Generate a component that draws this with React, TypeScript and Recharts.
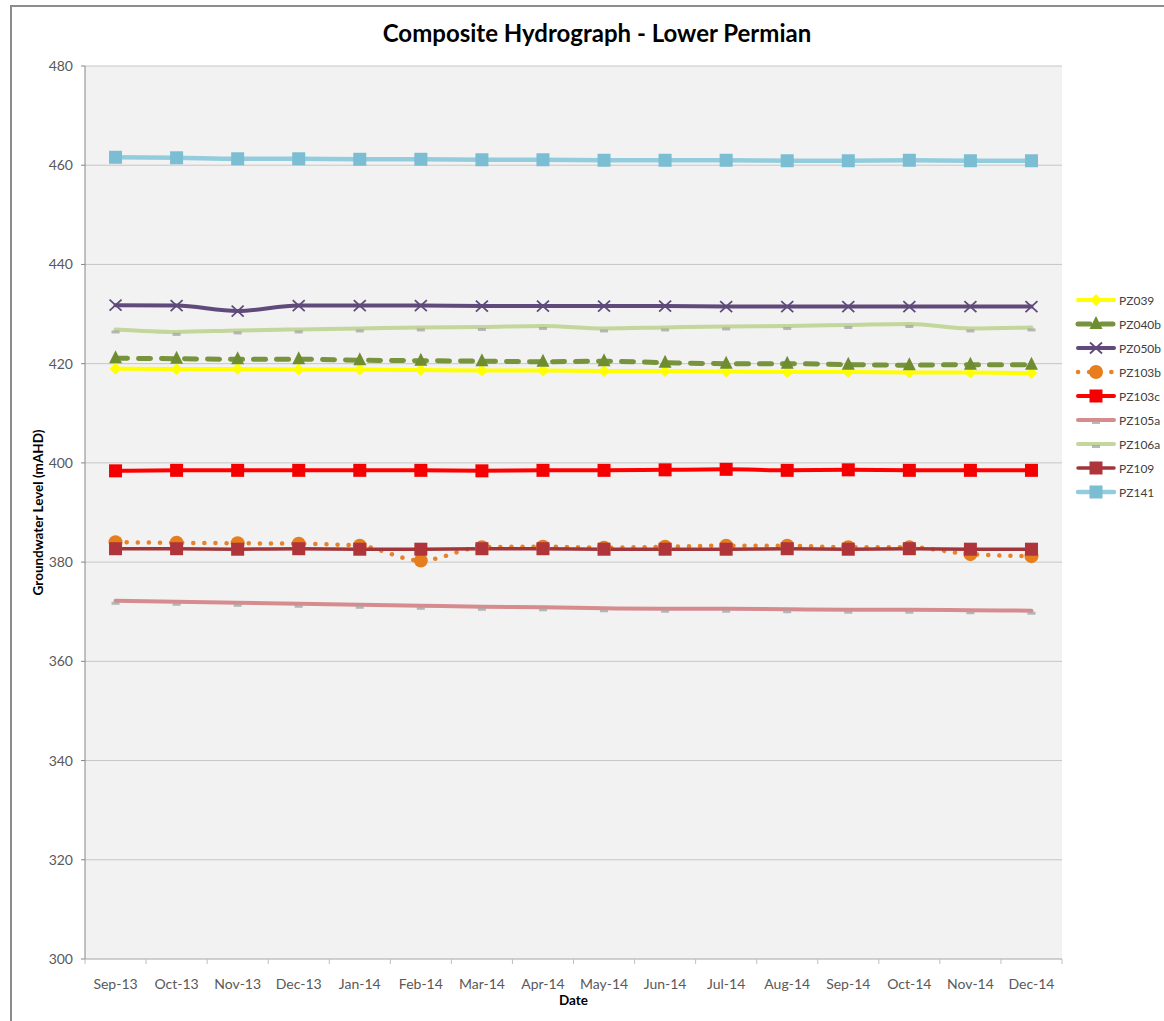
import { LineChart, Line, XAxis, YAxis, CartesianGrid, Legend, Label } from "recharts";

const FONT = "Lato, 'Open Sans', sans-serif";

const months = [
  "Sep-13", "Oct-13", "Nov-13", "Dec-13", "Jan-14", "Feb-14", "Mar-14", "Apr-14",
  "May-14", "Jun-14", "Jul-14", "Aug-14", "Sep-14", "Oct-14", "Nov-14", "Dec-14",
];

const pz039 = [419.0, 418.9, 418.9, 418.8, 418.8, 418.7, 418.6, 418.6, 418.5, 418.5, 418.4, 418.3, 418.3, 418.2, 418.2, 418.1];
const pz040b = [421.1, 421.0, 420.9, 420.9, 420.7, 420.6, 420.5, 420.4, 420.5, 420.2, 420.0, 420.0, 419.8, 419.7, 419.8, 419.8];
const pz050b = [431.8, 431.7, 430.6, 431.7, 431.7, 431.7, 431.6, 431.6, 431.6, 431.6, 431.5, 431.5, 431.5, 431.5, 431.5, 431.5];
const pz103b = [384.0, 383.9, 383.8, 383.7, 383.3, 380.3, 383.0, 383.1, 382.9, 383.1, 383.3, 383.3, 383.0, 383.0, 381.6, 381.2];
const pz103c = [398.4, 398.5, 398.5, 398.5, 398.5, 398.5, 398.4, 398.5, 398.5, 398.6, 398.7, 398.5, 398.6, 398.5, 398.5, 398.5];
const pz105a = [372.2, 372.0, 371.8, 371.6, 371.4, 371.2, 371.0, 370.9, 370.7, 370.6, 370.6, 370.5, 370.4, 370.4, 370.3, 370.2];
const pz106a = [426.9, 426.4, 426.7, 426.9, 427.1, 427.3, 427.4, 427.6, 427.1, 427.3, 427.5, 427.6, 427.8, 428.0, 427.1, 427.3];
const pz109 = [382.7, 382.7, 382.6, 382.7, 382.6, 382.6, 382.7, 382.7, 382.6, 382.6, 382.6, 382.7, 382.6, 382.7, 382.6, 382.6];
const pz141 = [461.6, 461.5, 461.3, 461.3, 461.2, 461.2, 461.1, 461.1, 461.0, 461.0, 461.0, 460.9, 460.9, 461.0, 460.9, 460.9];

const yTicks = [300, 320, 340, 360, 380, 400, 420, 440, 460, 480];

type Marker = "diamond" | "triangle" | "cross" | "circle" | "square" | "dash";

type Series = {
  key: string;
  values: number[];
  color: string;
  width: number;
  marker: Marker;
  markerColor: string;
  dash?: string;
  cap?: "round" | "butt";
};

const series: Series[] = [
  { key: "PZ039", values: pz039, color: "#ffff00", width: 4, marker: "diamond", markerColor: "#ffff00" },
  { key: "PZ040b", values: pz040b, color: "#77933c", width: 5, marker: "triangle", markerColor: "#6e8c30", dash: "12 11", cap: "round" },
  { key: "PZ050b", values: pz050b, color: "#604a7b", width: 4, marker: "cross", markerColor: "#604a7b" },
  { key: "PZ103b", values: pz103b, color: "#e8822a", width: 4.5, marker: "circle", markerColor: "#e67e1e", dash: "0.1 11", cap: "round" },
  { key: "PZ103c", values: pz103c, color: "#ff0000", width: 4, marker: "square", markerColor: "#f50000" },
  { key: "PZ105a", values: pz105a, color: "#d68c8f", width: 4, marker: "dash", markerColor: "#a6a6a6" },
  { key: "PZ106a", values: pz106a, color: "#c3d69b", width: 4, marker: "dash", markerColor: "#a6a6a6" },
  { key: "PZ109", values: pz109, color: "#a0363a", width: 3.5, marker: "square", markerColor: "#b0353a" },
  { key: "PZ141", values: pz141, color: "#93cddd", width: 4.5, marker: "square", markerColor: "#7bbdd3" },
];

const data = months.map((month, i) => {
  const row: Record<string, string | number> = { month };
  series.forEach((s) => {
    row[s.key] = s.values[i];
  });
  return row;
});

const CHART_W = 1152;
const CHART_H = 1014;
const Y_AXIS_W = 73;
const LEGEND_W = 102;
const PLOT_W = CHART_W - Y_AXIS_W - LEGEND_W;
const BAND = PLOT_W / months.length;

function drawMarker(kind: Marker, cx: number, cy: number, color: string, key: string) {
  switch (kind) {
    case "diamond":
      return <path key={key} d={`M${cx},${cy - 6} L${cx + 6},${cy} L${cx},${cy + 6} L${cx - 6},${cy} Z`} fill={color} />;
    case "triangle":
      return <path key={key} d={`M${cx},${cy - 8} L${cx + 6.5},${cy + 5} L${cx - 6.5},${cy + 5} Z`} fill={color} />;
    case "cross":
      return (
        <path
          key={key}
          d={`M${cx - 6},${cy - 5.5} L${cx + 6},${cy + 5.5} M${cx + 6},${cy - 5.5} L${cx - 6},${cy + 5.5}`}
          stroke={color}
          strokeWidth={1.8}
          fill="none"
        />
      );
    case "circle":
      return <circle key={key} cx={cx} cy={cy} r={7} fill={color} />;
    case "square":
      return <rect key={key} x={cx - 6.5} y={cy - 6.5} width={13} height={13} fill={color} />;
    case "dash":
      return <rect key={key} x={cx - 4} y={cy + 1} width={8} height={3} fill={color} opacity={0.8} />;
  }
}

function MonthTick(props: any) {
  const { x, y, payload } = props;
  const last = payload.index === months.length - 1;
  return (
    <g>
      <line x1={x - BAND / 2} x2={x - BAND / 2} y1={y} y2={y + 5} stroke="#bfbfbf" />
      {last && <line x1={x + BAND / 2} x2={x + BAND / 2} y1={y} y2={y + 5} stroke="#bfbfbf" />}
      <text x={x} y={y + 30} textAnchor="middle" fill="#595959" fontSize={14} fontFamily={FONT}>
        {payload.value}
      </text>
    </g>
  );
}

function renderLegend() {
  return (
    <div style={{ width: LEGEND_W, paddingLeft: 14, boxSizing: "border-box" }}>
      {series.map((s) => (
        <div key={s.key} style={{ height: 24, display: "flex", alignItems: "center" }}>
          <svg width={40} height={16} style={{ overflow: "visible", flex: "none" }}>
            <line
              x1={2}
              y1={8}
              x2={38}
              y2={8}
              stroke={s.color}
              strokeWidth={s.width}
              strokeDasharray={s.dash}
              strokeLinecap={s.cap ?? "round"}
            />
            {drawMarker(s.marker, 20, 8, s.markerColor, "m")}
          </svg>
          <span style={{ marginLeft: 3, fontFamily: FONT, fontSize: 12, color: "#404040", whiteSpace: "nowrap" }}>
            {s.key}
          </span>
        </div>
      ))}
    </div>
  );
}

export default function App() {
  return (
    <div
      style={{
        width: 1164,
        height: 1021,
        paddingLeft: 10,
        paddingTop: 5,
        boxSizing: "border-box",
        background: "#fff",
        overflow: "hidden",
      }}
    >
      <style>{"body{margin:0}"}</style>
      <div
        style={{
          position: "relative",
          width: 1154,
          height: 1016,
          boxSizing: "border-box",
          borderLeft: "2px solid #8c8c8c",
          borderTop: "2px solid #8c8c8c",
          background: "#fff",
          fontFamily: FONT,
        }}
      >
        <div
          style={{
            position: "absolute",
            left: 585,
            top: 11,
            transform: "translateX(-50%)",
            whiteSpace: "nowrap",
            fontSize: 24,
            fontWeight: 700,
            color: "#000",
            zIndex: 2,
          }}
        >
          Composite Hydrograph - Lower Permian
        </div>
        <LineChart width={CHART_W} height={CHART_H} data={data} margin={{ top: 59, right: 0, bottom: 0, left: 0 }}>
          <CartesianGrid vertical={false} stroke="#c6c6c6" fill="#f2f2f2" />
          <XAxis
            dataKey="month"
            height={62}
            interval={0}
            padding={{ left: BAND / 2, right: BAND / 2 }}
            axisLine={{ stroke: "#bfbfbf" }}
            tickLine={false}
            tickSize={0}
            tickMargin={0}
            tick={<MonthTick />}
          >
            <Label value="Date" position="center" dy={10} fontSize={13.5} fontWeight={700} fill="#000" fontFamily={FONT} />
          </XAxis>
          <YAxis
            width={Y_AXIS_W}
            domain={[300, 480]}
            ticks={yTicks}
            interval={0}
            axisLine={{ stroke: "#868686" }}
            tickLine={{ stroke: "#868686" }}
            tickSize={4}
            tickMargin={8}
            tick={{ fill: "#595959", fontSize: 14, fontFamily: FONT }}
          >
            <Label
              value="Groundwater Level (mAHD)"
              position="center"
              angle={-90}
              dx={-10.5}
              fontSize={13.5}
              fontWeight={700}
              fill="#000"
              fontFamily={FONT}
            />
          </YAxis>
          <Legend layout="vertical" align="right" verticalAlign="top" content={renderLegend} wrapperStyle={{ top: 281 }} />
          {series.map((s) => (
            <Line
              key={s.key}
              dataKey={s.key}
              type="monotone"
              stroke={s.color}
              strokeWidth={s.width}
              strokeDasharray={s.dash}
              strokeLinecap={s.cap ?? "round"}
              isAnimationActive={false}
              activeDot={false}
              dot={(p: any) => drawMarker(s.marker, p.cx, p.cy, s.markerColor, `${s.key}-${p.index}`)}
            />
          ))}
        </LineChart>
      </div>
    </div>
  );
}
